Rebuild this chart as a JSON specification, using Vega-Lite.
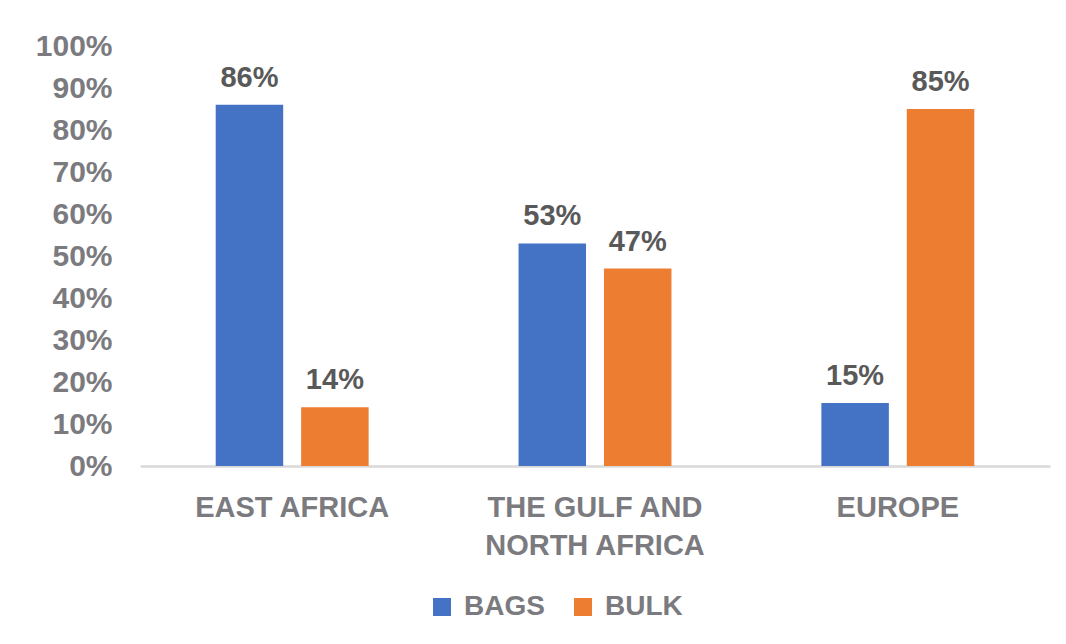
{
  "$schema": "https://vega.github.io/schema/vega-lite/v6.json",
  "autosize": {"type": "none"},
  "padding": {"left": 140, "top": 46, "right": 16, "bottom": 178},
  "width": 910,
  "height": 420,
  "background": "white",
  "config": {"view": {"stroke": null}, "font": "Liberation Sans"},
  "data": {"values": [
    {"region": "EAST AFRICA", "type": "BAGS", "value": 0.86},
    {"region": "EAST AFRICA", "type": "BULK", "value": 0.14},
    {"region": "THE GULF AND NORTH AFRICA", "type": "BAGS", "value": 0.53},
    {"region": "THE GULF AND NORTH AFRICA", "type": "BULK", "value": 0.47},
    {"region": "EUROPE", "type": "BAGS", "value": 0.15},
    {"region": "EUROPE", "type": "BULK", "value": 0.85}
  ]},
  "encoding": {
    "x": {"field": "region", "type": "nominal", "sort": null, "title": null,
      "scale": {"paddingInner": 0.495, "paddingOuter": 0.25},
      "axis": {"labelAngle": 0, "labelFont": "Liberation Sans", "labelFontWeight": "bold", "labelFontSize": 29,
        "labelColor": "#7b7b7f", "labelPadding": 27, "labelBaseline": "top", "labelLineHeight": 38, "labelLimit": 0,
        "labelExpr": "datum.value == 'THE GULF AND NORTH AFRICA' ? ['THE GULF AND', 'NORTH AFRICA'] : datum.value",
        "ticks": false, "domainColor": "#d9d9d9", "domainWidth": 2.5, "grid": false}},
    "xOffset": {"field": "type", "type": "nominal", "scale": {"paddingInner": 0.21}},
    "y": {"field": "value", "type": "quantitative", "title": null,
      "scale": {"domain": [0, 1]},
      "axis": {"format": ".0%", "values": [0,0.1,0.2,0.3,0.4,0.5,0.6,0.7,0.8,0.9,1], "labelFont": "Liberation Sans", "labelFontWeight": "bold", "labelFontSize": 30,
        "labelColor": "#7b7b7f", "labelPadding": 28, "ticks": false, "domain": false, "grid": false}}
  },
  "layer": [
    {"mark": {"type": "bar"},
     "encoding": {"color": {"field": "type", "type": "nominal", "title": null,
       "scale": {"domain": ["BAGS", "BULK"], "range": ["#4472C4", "#ED7D31"]},
       "legend": {"orient": "none", "direction": "horizontal", "legendX": 288, "legendY": 547,
         "symbolType": "square", "symbolSize": 324, "symbolStrokeWidth": 0, "labelFont": "Liberation Sans",
         "labelFontWeight": "bold", "labelFontSize": 28, "labelColor": "#7b7b7f", "labelOffset": 8, "columnPadding": 24, "labelLimit": 0}}}},
    {"mark": {"type": "text", "baseline": "alphabetic", "dy": -18, "font": "Liberation Sans", "fontWeight": "bold", "fontSize": 29, "color": "#595959"},
     "encoding": {"text": {"field": "value", "type": "quantitative", "format": ".0%"}}}
  ]
}
